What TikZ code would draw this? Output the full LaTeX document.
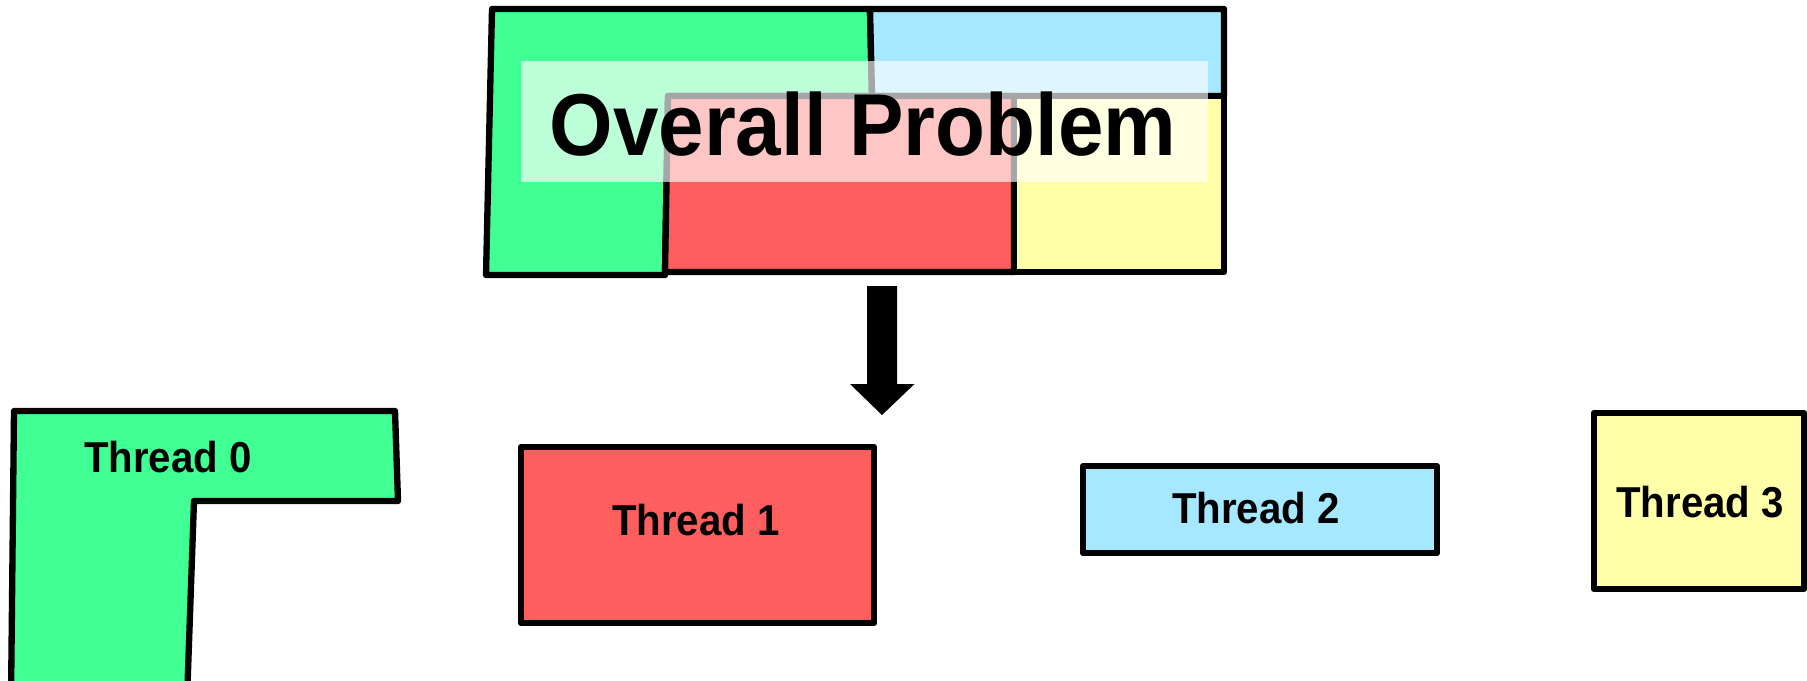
\documentclass[tikz,border=0pt]{standalone}
\usepackage{fontspec}
\setmainfont{Liberation Sans}[FakeStretch=0.93]
\usepackage{tikz}
\usetikzlibrary{calc,positioning}

\definecolor{partgreen}{HTML}{40FF93}
\definecolor{partred}{HTML}{FF5E5E}
\definecolor{partblue}{HTML}{A6E8FF}
\definecolor{partyellow}{HTML}{FFFFAA}

\begin{document}
\begin{tikzpicture}[
	piece/.style={draw=black, line width=1.8pt, line join=round},
	tag/.style={inner sep=0pt, font=\fontsize{12.3}{15}\selectfont\bfseries}]
	\useasboundingbox (0,0) rectangle (18.07,6.80);
	\clip (0,0) rectangle (18.07,6.80);

	% The whole problem, cut into four parts
	\draw[piece, fill=partgreen] (4.92,6.71) -- (8.70,6.71) -- (8.72,5.84) -- (6.68,5.84) -- (6.65,4.05) -- (4.86,4.05) -- cycle;
	\draw[piece, fill=partblue] (8.70,6.71) -- (12.24,6.71) -- (12.24,5.84) -- (8.72,5.84) -- cycle;
	\draw[piece, fill=partred] (6.68,5.84) -- (10.14,5.84) -- (10.14,4.08) -- (6.65,4.08) -- cycle;
	\draw[piece, fill=partyellow] (10.14,5.84) -- (12.24,5.84) -- (12.24,4.08) -- (10.14,4.08) -- cycle;

	% Pale band behind the title
	\fill[white, opacity=0.65] (5.21,6.19) rectangle (12.08,4.98);
	\node[inner sep=0pt, font=\fontsize{25}{30}\selectfont\bfseries] (problem) at (8.63,5.56) {Overall Problem};

	% Block arrow down to the threads
	\coordinate (split) at (8.82,3.94);
	\coordinate (tip) at (8.82,2.65);
	\fill (split) ++(-0.15,0) -- ++(0,-0.98) -- ++(-0.17,0) -- (tip) -- ++(0.325,0.31) -- ++(-0.175,0) -- ++(0,0.98) -- cycle;

	% One piece per thread
	\draw[piece, fill=partgreen] (0.14,2.69) -- (3.95,2.69) -- (3.98,1.79) -- (1.94,1.79) -- (1.87,-0.2) -- (0.11,-0.2) -- cycle;
	\node[tag] (thread0) at (1.68,2.23) {Thread 0};

	\draw[piece, fill=partred] (5.21,2.33) rectangle (8.74,0.57);
	\node[tag] (thread1) at (6.96,1.60) {Thread 1};

	\draw[piece, fill=partblue] (10.83,2.14) rectangle (14.37,1.27);
	\node[tag] (thread2) at (12.56,1.72) {Thread 2};

	\draw[piece, fill=partyellow] (15.94,2.67) rectangle (18.04,0.91);
	\node[tag] (thread3) at (17.00,1.78) {Thread 3};
\end{tikzpicture}
\end{document}
